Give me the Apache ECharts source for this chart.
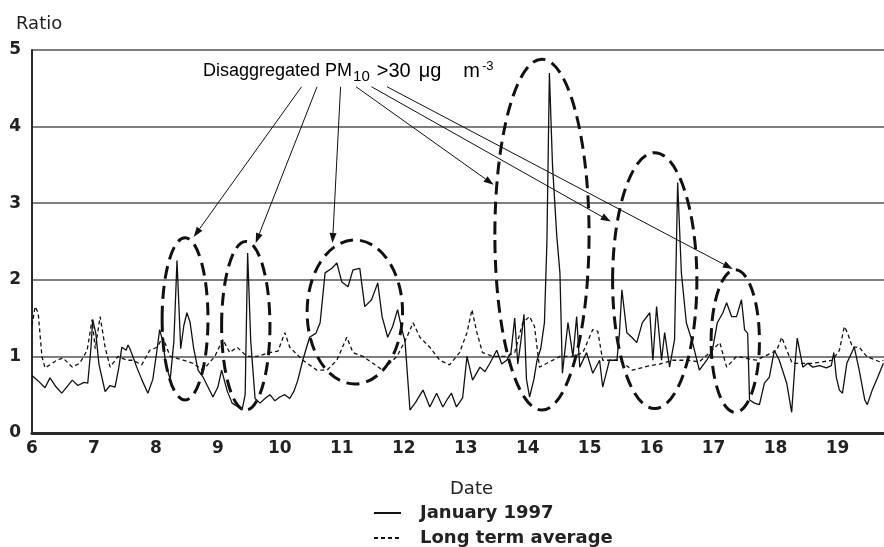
<!DOCTYPE html>
<html><head><meta charset="utf-8">
<script src="https://cdn.jsdelivr.net/npm/echarts@6/dist/echarts.min.js"></script>
<style>html,body{margin:0;padding:0;background:#fff}#c{width:884px;height:547px}</style>
</head><body><div id="c"></div>
<script>
// ---- data ----
const xTicks = [6,7,8,9,10,11,12,13,14,15,16,17,18,19];
const yTicks = [0,1,2,3,4,5];
const janDays = [6.00,6.10,6.21,6.29,6.39,6.48,6.56,6.65,6.74,6.84,6.90,6.95,6.98,7.03,7.08,7.18,7.26,7.34,7.40,7.45,7.52,7.55,7.58,7.65,7.69,7.77,7.87,7.95,8.02,8.06,8.11,8.16,8.23,8.29,8.34,8.40,8.45,8.50,8.55,8.61,8.68,8.76,8.84,8.92,9.00,9.06,9.15,9.23,9.31,9.39,9.44,9.48,9.53,9.60,9.68,9.76,9.84,9.92,10.00,10.08,10.16,10.23,10.29,10.37,10.48,10.58,10.65,10.73,10.84,10.92,11.00,11.10,11.18,11.29,11.37,11.48,11.58,11.65,11.74,11.82,11.90,11.97,12.02,12.10,12.19,12.31,12.42,12.53,12.63,12.71,12.77,12.85,12.95,13.02,13.11,13.23,13.31,13.39,13.50,13.58,13.66,13.73,13.79,13.84,13.89,13.94,13.98,14.03,14.10,14.15,14.21,14.27,14.31,14.35,14.40,14.47,14.52,14.56,14.65,14.73,14.79,14.84,14.95,15.05,15.16,15.21,15.32,15.44,15.48,15.52,15.60,15.68,15.76,15.85,15.97,16.02,16.08,16.16,16.21,16.29,16.37,16.42,16.48,16.56,16.66,16.77,16.89,16.98,17.06,17.15,17.21,17.29,17.37,17.45,17.50,17.55,17.58,17.66,17.74,17.82,17.90,17.98,18.06,18.18,18.26,18.31,18.35,18.44,18.52,18.60,18.71,18.82,18.90,18.94,18.98,19.03,19.08,19.15,19.23,19.27,19.35,19.44,19.48,19.56,19.65,19.74];
const janRatio = [0.75,0.68,0.59,0.72,0.60,0.52,0.60,0.69,0.62,0.66,0.65,1.10,1.48,1.30,0.90,0.54,0.62,0.60,0.85,1.12,1.08,1.15,1.10,0.95,0.86,0.70,0.52,0.70,1.10,1.35,1.20,0.90,0.70,1.20,2.25,1.10,1.40,1.57,1.45,1.10,0.82,0.73,0.60,0.47,0.60,0.82,0.55,0.39,0.35,0.30,0.50,2.35,1.20,0.45,0.39,0.45,0.50,0.42,0.47,0.50,0.45,0.55,0.69,0.95,1.25,1.30,1.44,2.09,2.15,2.22,1.97,1.91,2.13,2.15,1.65,1.74,1.96,1.52,1.25,1.39,1.61,1.35,1.20,0.30,0.40,0.56,0.34,0.52,0.34,0.45,0.52,0.34,0.46,1.00,0.69,0.86,0.80,0.91,1.08,0.90,0.95,1.05,1.50,0.90,1.20,1.55,0.70,0.47,0.70,0.95,1.10,1.44,2.50,4.70,3.50,2.56,2.09,0.78,1.44,1.00,1.52,0.86,1.05,0.78,0.95,0.60,0.95,0.95,1.30,1.87,1.31,1.25,1.18,1.44,1.57,0.95,1.65,0.95,1.31,0.86,1.22,3.27,2.09,1.44,1.18,0.82,0.95,1.08,1.44,1.57,1.70,1.52,1.52,1.74,1.35,1.30,0.43,0.39,0.37,0.65,0.73,1.08,0.95,0.65,0.27,0.86,1.24,0.86,0.91,0.86,0.88,0.85,0.88,1.05,0.73,0.56,0.52,0.91,1.05,1.12,0.82,0.43,0.37,0.56,0.73,0.91];
const avgDays = [6.00,6.05,6.10,6.16,6.21,6.31,6.40,6.50,6.65,6.77,6.89,6.97,7.02,7.10,7.18,7.26,7.39,7.53,7.63,7.77,7.90,8.02,8.11,8.23,8.44,8.60,8.76,8.95,9.08,9.19,9.31,9.47,9.63,9.84,9.97,10.08,10.16,10.37,10.60,10.76,10.92,11.08,11.18,11.34,11.50,11.66,11.89,12.05,12.15,12.26,12.42,12.58,12.74,12.90,13.02,13.10,13.18,13.27,13.44,13.66,13.79,13.92,14.03,14.11,14.19,14.31,14.52,14.73,14.89,15.05,15.13,15.21,15.48,15.69,15.92,16.13,16.34,16.56,16.77,16.94,17.10,17.21,17.37,17.69,18.02,18.10,18.18,18.27,18.60,18.92,19.03,19.11,19.16,19.24,19.35,19.47,19.68,19.74];
const avgRatio = [1.40,1.65,1.57,1.00,0.85,0.90,0.95,0.98,0.86,0.91,1.08,1.48,1.10,1.52,1.12,0.86,1.00,0.95,0.95,0.89,1.08,1.12,1.25,1.00,0.95,0.91,0.82,1.00,1.22,1.05,1.12,1.00,1.00,1.05,1.07,1.31,1.12,0.95,0.82,0.82,0.95,1.25,1.05,1.00,0.91,0.82,1.00,1.25,1.44,1.25,1.12,0.95,0.89,1.05,1.31,1.61,1.31,1.05,1.00,1.00,1.05,1.44,1.52,1.39,0.86,0.91,1.00,1.00,1.05,1.35,1.33,0.95,0.95,0.82,0.87,0.90,0.95,0.95,0.93,1.05,1.18,0.86,1.00,0.95,1.08,1.25,1.08,0.91,0.91,0.95,1.08,1.39,1.31,1.12,1.12,1.00,0.93,0.95];
const seriesNames = ['January 1997', 'Long term average'];
// highlighted episodes (ellipse centre day, centre ratio, half-width in days, half-height in ratio)
const episodes = [
  [8.47, 1.49, 0.37, 1.06],
  [9.45, 1.40, 0.39, 1.10],
  [11.21, 1.58, 0.77, 0.94],
  [14.23, 2.59, 0.76, 2.29],
  [16.05, 1.99, 0.68, 1.67],
  [17.35, 1.20, 0.39, 0.93]
];
// arrows: [fromDay, fromRatio, toDay, toRatio]
const arrows = [
  [10.35, 4.52, 8.61, 2.56],
  [10.60, 4.52, 9.61, 2.48],
  [10.98, 4.52, 10.85, 2.48],
  [11.23, 4.52, 13.45, 3.24],
  [11.48, 4.52, 15.34, 2.76],
  [11.73, 4.52, 17.31, 2.14]
];

const FONT = 'DejaVu Sans';
const chart = echarts.init(document.getElementById('c'), null, {renderer: 'canvas'});
const zip = (a, b) => a.map((v, i) => [v, b[i]]);
const legendBase = {
  orient: 'vertical', left: 368, itemWidth: 27, itemHeight: 14,
  itemStyle: {opacity: 0},
  textStyle: {fontFamily: FONT, fontWeight: 'bold', fontSize: 18, color: '#222', padding: [0, 0, 0, 14]}
};

chart.setOption({
  animation: false,
  backgroundColor: '#fff',
  grid: {left: 32, right: 0, top: 50, bottom: 114, containLabel: false},
  xAxis: {
    type: 'value', min: 6, max: 19.75, interval: 1,
    axisLine: {show: true, onZero: false, lineStyle: {color: '#2a2a2a', width: 3}},
    axisTick: {show: false},
    splitLine: {show: false},
    axisLabel: {
      color: '#222', fontFamily: FONT, fontWeight: 'bold', fontSize: 17, margin: 7,
      showMaxLabel: false,
      formatter: v => (xTicks.indexOf(v) >= 0 ? String(v) : '')
    }
  },
  yAxis: {
    type: 'value', min: 0, max: 5, interval: 1,
    axisLine: {show: true, lineStyle: {color: '#2a2a2a', width: 2}},
    axisTick: {show: false},
    splitLine: {show: true, lineStyle: {color: '#555', width: 1.5}},
    axisLabel: {
      color: '#222', fontFamily: FONT, fontWeight: 'bold', fontSize: 17, margin: 11,
      formatter: v => (yTicks.indexOf(v) >= 0 ? String(v) : '')
    }
  },
  legend: [
    Object.assign({}, legendBase, {data: [seriesNames[0]], top: 499}),
    Object.assign({}, legendBase, {data: [seriesNames[1]], top: 524})
  ],
  title: [
    {text: 'Ratio', left: 11, top: 10, textStyle: {fontFamily: FONT, fontWeight: 'normal', fontSize: 18, color: '#222'}},
    {text: 'Date', left: 445, top: 475, textStyle: {fontFamily: FONT, fontWeight: 'normal', fontSize: 18, color: '#222'}}
  ],
  series: [
    {name: seriesNames[0], type: 'line', symbol: 'none', data: zip(janDays, janRatio),
     lineStyle: {color: '#111', width: 1.3}, itemStyle: {color: '#111'}, z: 3},
    {name: seriesNames[1], type: 'line', symbol: 'none', data: zip(avgDays, avgRatio),
     lineStyle: {color: '#111', width: 1.3, type: [4, 3]}, itemStyle: {color: '#111'}, z: 2}
  ]
});

function px(d, v) { return chart.convertToPixel({gridIndex: 0}, [d, v]); }
const g = [];
episodes.forEach(e => {
  const c = px(e[0], e[1]);
  const r = px(e[0] + e[2], e[1] + e[3]);
  g.push({type: 'ellipse', shape: {cx: c[0], cy: c[1], rx: Math.abs(r[0] - c[0]), ry: Math.abs(c[1] - r[1])},
    style: {fill: null, stroke: '#111', lineWidth: 3, lineDash: [13, 7]}, z: 10});
});
arrows.forEach(a => {
  const p0 = px(a[0], a[1]), p1 = px(a[2], a[3]);
  const dx = p1[0] - p0[0], dy = p1[1] - p0[1], L = Math.hypot(dx, dy);
  const ux = dx / L, uy = dy / L, hl = 10, hw = 3.5;
  const bx = p1[0] - ux * hl, by = p1[1] - uy * hl;
  g.push({type: 'line', shape: {x1: p0[0], y1: p0[1], x2: bx, y2: by}, style: {stroke: '#111', lineWidth: 1}, z: 10});
  g.push({type: 'polygon', shape: {points: [[p1[0], p1[1]], [bx - uy * hw, by + ux * hw], [bx + uy * hw, by - ux * hw]]},
    style: {fill: '#111'}, z: 10});
});
const tp = px(8.76, 4.72);
const AF = 'Liberation Sans';
g.push({type: 'text', x: tp[0], y: tp[1], z: 11,
  style: {
    text: '{a|Disaggregated PM}{s|10}{b|>30}{c|μg}{d|m}{p|-3}',
    verticalAlign: 'middle',
    rich: {
      a: {fontFamily: AF, fontSize: 18, color: '#333', lineHeight: 26},
      s: {fontFamily: AF, fontSize: 15, color: '#333', lineHeight: 26, padding: [10, 0, 0, 1]},
      b: {fontFamily: AF, fontSize: 20, color: '#333', lineHeight: 26, padding: [0, 0, 0, 7]},
      c: {fontFamily: AF, fontSize: 20, color: '#333', lineHeight: 26, padding: [0, 0, 0, 8]},
      d: {fontFamily: AF, fontSize: 20, color: '#333', lineHeight: 26, padding: [0, 0, 0, 22]},
      p: {fontFamily: AF, fontSize: 13, color: '#333', lineHeight: 26, padding: [0, 0, 10, 2]}
    }
  }});
chart.setOption({graphic: g});
</script>
</body></html>
